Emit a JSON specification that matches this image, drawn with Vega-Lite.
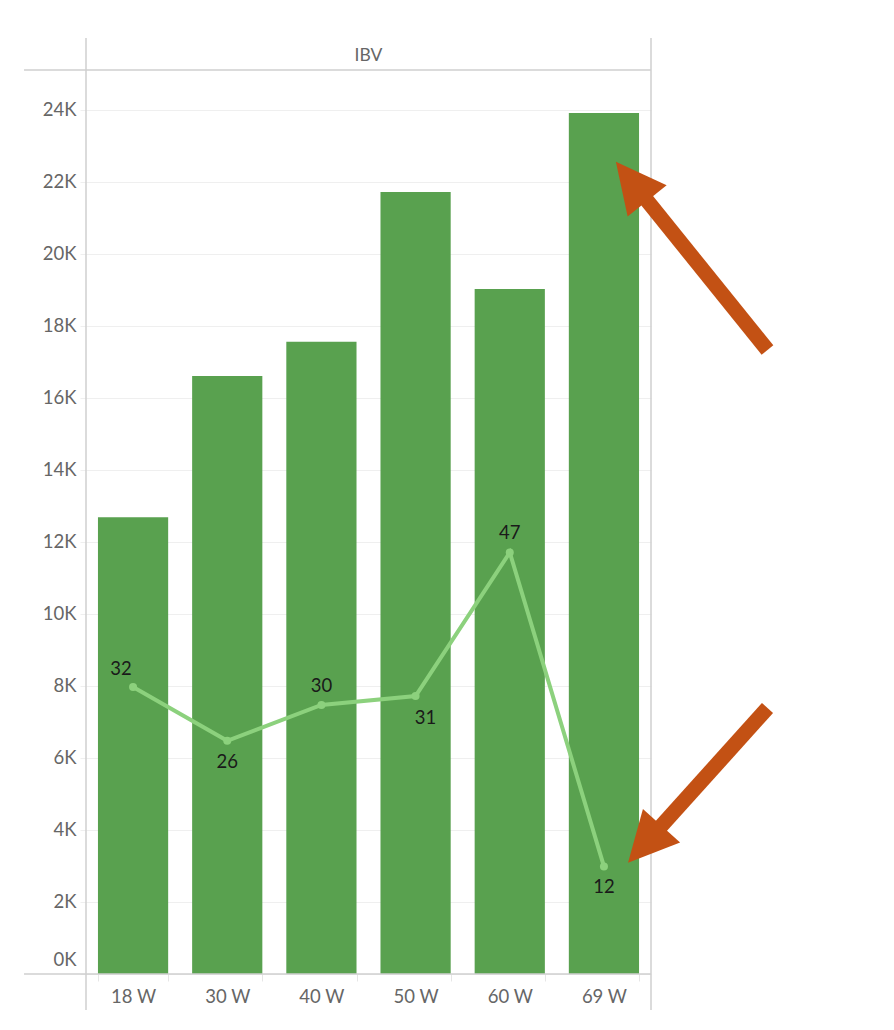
{
  "$schema": "https://vega.github.io/schema/vega-lite/v6.json",
  "width": 565,
  "height": 904,
  "autosize": {"type": "none"},
  "padding": {"left": 86, "top": 70, "right": 243, "bottom": 56},
  "background": "white",
  "config": {"view": {"stroke": null}},
  "datasets": {
    "main": [
      {"w": "18 W", "ibv": 12690, "n": 32},
      {"w": "30 W", "ibv": 16610, "n": 26},
      {"w": "40 W", "ibv": 17560, "n": 30},
      {"w": "50 W", "ibv": 21720, "n": 31},
      {"w": "60 W", "ibv": 19030, "n": 47},
      {"w": "69 W", "ibv": 23920, "n": 12}
    ],
    "frame": [
      {"x": -0.658, "x2": 6, "y": 25111, "y2": 25111},
      {"x": -0.658, "x2": 6, "y": 0, "y2": 0},
      {"x": 0, "x2": 0, "y": -1000, "y2": 26000},
      {"x": 6, "x2": 6, "y": -1000, "y2": 26000}
    ],
    "header": [
      {"h": "IBV", "x": 3, "y": 25370}
    ],
    "arrows": [
      {"id": "a1", "tx": 7.237, "ty": 17333, "hx": 5.793, "hy": 22019},
      {"id": "a2", "tx": 7.237, "ty": 7389, "hx": 5.934, "hy": 3603}
    ]
  },
  "layer": [
    {
      "data": {"name": "main"},
      "mark": {"type": "bar", "color": "#59a14f"},
      "encoding": {
        "x": {
          "field": "w", "type": "nominal", "sort": null,
          "scale": {"type": "band", "paddingInner": 0.2545, "paddingOuter": 0.127},
          "axis": {"title": null, "domain": false, "labelAngle": 0, "tickBand": "extent", "tickSize": 7, "tickColor": "#e6e6e6", "tickWidth": 1, "labelFont": "Lato", "labelFontSize": 18.5, "labelColor": "#666666", "labelBaseline": "alphabetic", "labelPadding": 21.5, "grid": false}
        },
        "y": {
          "field": "ibv", "type": "quantitative",
          "scale": {"domain": [0, 25111], "nice": false, "zero": true},
          "axis": {"title": null, "domain": false, "values": [0, 2000, 4000, 6000, 8000, 10000, 12000, 14000, 16000, 18000, 20000, 22000, 24000], "labelExpr": "format(datum.value/1000, 'd') + 'K'", "labelFlush": true, "labelFlushOffset": -5, "grid": true, "gridColor": "#efefef", "gridWidth": 1, "tickColor": "#efefef", "tickSize": 6, "labelPadding": 4, "labelFont": "Lato", "labelFontSize": 18.5, "labelColor": "#666666"}
        }
      }
    },
    {
      "data": {"name": "main"},
      "encoding": {
        "x": {"field": "w", "type": "nominal", "sort": null, "scale": {"type": "band", "paddingInner": 0.2545, "paddingOuter": 0.127}, "axis": null},
        "y": {"field": "n", "type": "quantitative", "scale": {"domain": [0, 100.8], "nice": false, "zero": true}, "axis": null}
      },
      "layer": [
        {"mark": {"type": "line", "color": "#8cd17d", "strokeWidth": 4}},
        {"mark": {"type": "point", "filled": true, "color": "#8cd17d", "size": 64, "opacity": 1}},
        {
          "transform": [{"filter": "datum.w == '40 W' || datum.w == '60 W'"}],
          "mark": {"type": "text", "dy": -19, "font": "Lato", "fontSize": 18.5, "color": "#1a1a1a", "baseline": "middle", "align": "center"},
          "encoding": {"text": {"field": "n", "type": "quantitative"}}
        },
        {
          "transform": [{"filter": "datum.w == '18 W'"}],
          "mark": {"type": "text", "dy": -18, "dx": -12, "font": "Lato", "fontSize": 18.5, "color": "#1a1a1a", "baseline": "middle", "align": "center"},
          "encoding": {"text": {"field": "n", "type": "quantitative"}}
        },
        {
          "transform": [{"filter": "datum.w == '30 W' || datum.w == '69 W'"}],
          "mark": {"type": "text", "dy": 21, "font": "Lato", "fontSize": 18.5, "color": "#1a1a1a", "baseline": "middle", "align": "center"},
          "encoding": {"text": {"field": "n", "type": "quantitative"}}
        },
        {
          "transform": [{"filter": "datum.w == '50 W'"}],
          "mark": {"type": "text", "dy": 22, "dx": 10, "font": "Lato", "fontSize": 18.5, "color": "#1a1a1a", "baseline": "middle", "align": "center"},
          "encoding": {"text": {"field": "n", "type": "quantitative"}}
        }
      ]
    },
    {
      "layer": [
        {
          "data": {"name": "frame"},
          "mark": {"type": "rule", "color": "#cfcfcf", "strokeWidth": 1.5},
          "encoding": {
            "x": {"field": "x", "type": "quantitative", "scale": {"domain": [0, 6], "nice": false, "zero": false}, "axis": null},
            "x2": {"field": "x2"},
            "y": {"field": "y", "type": "quantitative", "scale": {"domain": [0, 25111], "nice": false, "zero": false}, "axis": null},
            "y2": {"field": "y2"}
          }
        },
        {
          "data": {"name": "header"},
          "mark": {"type": "text", "font": "Lato", "fontSize": 17.5, "color": "#666666", "baseline": "alphabetic", "align": "center"},
          "encoding": {
            "x": {"field": "x", "type": "quantitative", "scale": {"domain": [0, 6], "nice": false, "zero": false}, "axis": null},
            "y": {"field": "y", "type": "quantitative", "scale": {"domain": [0, 25111], "nice": false, "zero": false}, "axis": null},
            "text": {"field": "h", "type": "nominal"}
          }
        },
        {
          "data": {"name": "arrows"},
          "mark": {"type": "rule", "color": "#c35114", "strokeWidth": 15, "strokeCap": "butt"},
          "encoding": {
            "x": {"field": "tx", "type": "quantitative", "scale": {"domain": [0, 6], "nice": false, "zero": false}, "axis": null},
            "x2": {"field": "hx"},
            "y": {"field": "ty", "type": "quantitative", "scale": {"domain": [0, 25111], "nice": false, "zero": false}, "axis": null},
            "y2": {"field": "hy"}
          }
        },
        {
          "data": {"name": "arrows"},
          "transform": [{"filter": "datum.id == 'a1'"}],
          "mark": {"type": "point", "shape": "M0,-1L1,1L-1,1Z", "filled": true, "color": "#c35114", "size": 2500, "angle": -38.7, "opacity": 1, "strokeWidth": 0},
          "encoding": {
            "x": {"field": "hx", "type": "quantitative", "scale": {"domain": [0, 6], "nice": false, "zero": false}, "axis": null},
            "y": {"field": "hy", "type": "quantitative", "scale": {"domain": [0, 25111], "nice": false, "zero": false}, "axis": null}
          }
        },
        {
          "data": {"name": "arrows"},
          "transform": [{"filter": "datum.id == 'a2'"}],
          "mark": {"type": "point", "shape": "M0,-1L1,1L-1,1Z", "filled": true, "color": "#c35114", "size": 2500, "angle": 222, "opacity": 1, "strokeWidth": 0},
          "encoding": {
            "x": {"field": "hx", "type": "quantitative", "scale": {"domain": [0, 6], "nice": false, "zero": false}, "axis": null},
            "y": {"field": "hy", "type": "quantitative", "scale": {"domain": [0, 25111], "nice": false, "zero": false}, "axis": null}
          }
        }
      ]
    }
  ],
  "resolve": {"scale": {"x": "independent", "y": "independent"}}
}
